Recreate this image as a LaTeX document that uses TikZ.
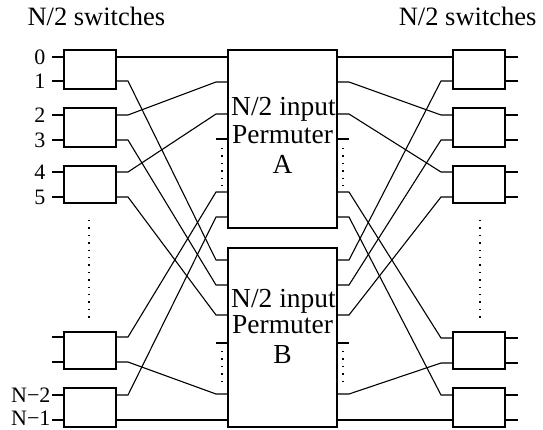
\documentclass[tikz,border=0pt]{standalone}
\usepackage{fontspec}
\setmainfont{Liberation Serif}
\begin{document}
\begin{tikzpicture}[x=1pt,y=-1pt,line width=1.1pt,
  swbox/.style={draw,minimum width=52pt,inner sep=0pt,outer sep=0pt},
  permbox/.style={draw,minimum width=109pt,inner sep=0pt,outer sep=0pt},
  permtxt/.style={font=\fontsize{27.5}{32}\selectfont,inner sep=0pt,anchor=base},
  toptxt/.style={font=\fontsize{26.5}{31}\selectfont,inner sep=0pt},
  numtxt/.style={font=\fontsize{22}{26}\selectfont,inner sep=0pt,text depth=0pt,anchor=east},
  dotline/.style={line width=1.4pt,dash pattern=on 1.4pt off 6pt},
  wire/.style={line width=1.1pt}]
\useasboundingbox (0,0) rectangle (543,429);

% top labels
\node[toptxt,anchor=base west] (tl) at (27,25) {N/2 switches};
\node[toptxt,anchor=base east] (tr) at (537,25) {N/2 switches};

% permuters
\node[permbox,minimum height=178pt] (A) at (282.5,139) {};
\node[permbox,minimum height=179pt] (B) at (282.5,337.5) {};
\node[permtxt] (A1) at (283.5,115) {N/2 input};
\node[permtxt] (A2) at (282.5,143) {Permuter};
\node[permtxt] (A3) at (282.5,173) {A};
\node[permtxt] (B1) at (283.5,307) {N/2 input};
\node[permtxt] (B2) at (282.5,333) {Permuter};
\node[permtxt] (B3) at (282.5,363) {B};

% permuter ports
\foreach \k/\ya/\yb in {0/57/260,1/82/285,2/114/315,3/192/394,4/217/420}{
  \coordinate (Ai\k) at (228,\ya);
  \coordinate (Ao\k) at (337,\ya);
  \coordinate (Bi\k) at (228,\yb);
  \coordinate (Bo\k) at (337,\yb);
}

% switches
\foreach \nm/\ya/\yb/\pa/\pb in {1/50/89/57/81,2/108/147/115/140,3/166/203/172/197,4/332/369/337/362,5/388/427/395/420}{
  \node[swbox,minimum height={\yb-\ya}] (L\nm) at (90,{(\ya+\yb)/2}) {};
  \coordinate (L\nm a) at (116,\pa);
  \coordinate (L\nm b) at (116,\pb);
  \coordinate (L\nm ai) at (64,\pa);
  \coordinate (L\nm bi) at (64,\pb);
  \draw[wire] (L\nm ai) -- ++(-12,0);
  \draw[wire] (L\nm bi) -- ++(-12,0);
}
\foreach \nm/\ya/\yb/\pa/\pb in {1/50/89/57/81,2/108/147/115/140,3/166/203/172/197,4/332/369/338/363,5/388/427/395/420}{
  \node[swbox,minimum height={\yb-\ya}] (R\nm) at (479,{(\ya+\yb)/2}) {};
  \coordinate (R\nm a) at (453,\pa);
  \coordinate (R\nm b) at (453,\pb);
  \coordinate (R\nm ao) at (505,\pa);
  \coordinate (R\nm bo) at (505,\pb);
  \draw[wire] (R\nm ao) -- ++(13,0);
  \draw[wire] (R\nm bo) -- ++(13,0);
}

% port labels
\node[numtxt] (n0) at (46,57) {0};
\node[numtxt] (n1) at (46,81) {1};
\node[numtxt] (n2) at (46,115) {2};
\node[numtxt] (n3) at (46,140) {3};
\node[numtxt] (n4) at (46,172) {4};
\node[numtxt] (n5) at (46,197) {5};
\node[numtxt] (nN2) at (51,395) {N−2};
\node[numtxt] (nN1) at (51,418.5) {N−1};

% left wiring
\draw[wire] (L1a) -- (Ai0);
\draw[wire] (L5b) -- (Bi4);
\foreach \s/\t in {L1b/Bi0,L2a/Ai1,L2b/Bi1,L3a/Ai2,L3b/Bi2,L4a/Ai3,L4b/Bi3,L5a/Ai4}{
  \draw[wire] (\s) -- ++(12,0) -- ([xshift=-12pt]\t) -- (\t);
}
% right wiring
\draw[wire] (Ao0) -- (R1a);
\draw[wire] (Bo4) -- (R5b);
\foreach \s/\t in {Ao1/R2a,Ao2/R3a,Ao3/R4a,Ao4/R5a,Bo0/R1b,Bo1/R2b,Bo2/R3b,Bo3/R4b}{
  \draw[wire] (\s) -- ++(12,0) -- ([xshift=-12pt]\t) -- (\t);
}

% ticks and dots at permuters
\draw[wire] (216,139) -- (A.west |- 0,139);
\draw[wire] (A.east |- 0,139) -- (349,139);
\draw[wire] (216,343) -- (B.west |- 0,343);
\draw[wire] (B.east |- 0,343) -- (349,343);
\draw[dotline] (222,148) -- (222,186);
\draw[dotline] (343,148) -- (343,186);
\draw[dotline] (222,351) -- (222,386);
\draw[dotline] (343,351) -- (343,386);

% column dots
\draw[dotline] (89,220) -- (89,318);
\draw[dotline] (480,220) -- (480,318);
\end{tikzpicture}
\end{document}
